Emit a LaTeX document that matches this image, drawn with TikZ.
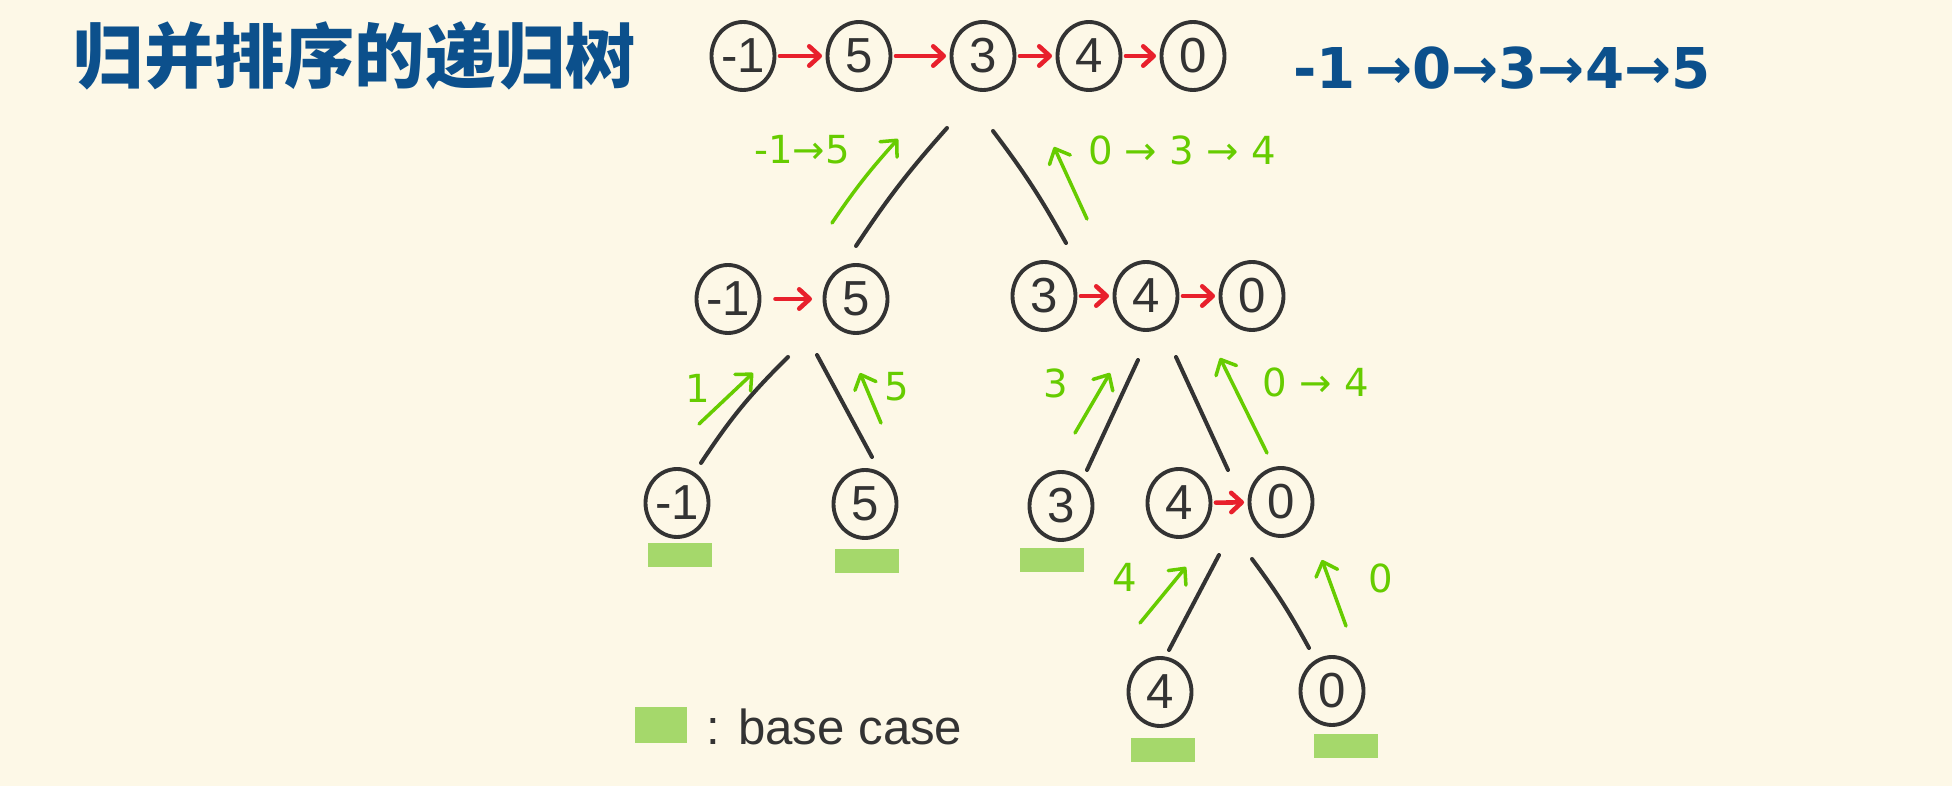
\documentclass[tikz,border=0pt]{standalone}
\usepackage{fontspec}
\setmainfont{Liberation Sans}
\newfontfamily\cjk{Noto Sans CJK SC}
\newfontfamily\arr{DejaVu Sans}
\usepackage{tikz}
\usetikzlibrary{arrows.meta,backgrounds,shapes.geometric}

\definecolor{paper}{RGB}{253,248,231}
\definecolor{ink}{RGB}{51,51,51}
\definecolor{mergered}{RGB}{232,32,44}
\definecolor{leafgreen}{RGB}{102,204,0}
\definecolor{basegreen}{RGB}{165,216,107}
\definecolor{titleblue}{RGB}{12,80,140}

\begin{document}
\begin{tikzpicture}[x=0.02cm, y=-0.02cm,
        num/.style={draw=ink, ellipse, line width=2.2pt, minimum width=1.26cm, minimum height=1.36cm, inner sep=0pt, text=ink, font=\fontsize{28}{28}\selectfont},
        link/.style={draw=mergered, line width=2.6pt, line cap=round, -{Straight Barb[length=6pt,width=11pt,round]}, shorten <=2pt, shorten >=2pt},
        branch/.style={draw=ink, line width=2.3pt, line cap=round},
        back/.style={draw=leafgreen, line width=2pt, line cap=round, -{Straight Barb[length=7pt,width=13pt,round]}},
        backlabel/.style={text=leafgreen, font=\arr\fontsize{22}{22}\selectfont},
        basecase/.style={fill=basegreen, minimum width=1.28cm, minimum height=0.48cm, inner sep=0pt}]
        \useasboundingbox (0,0) rectangle (1952,786);
        \fill[paper] (0,0) rectangle (1952,786);

        \node[text=titleblue, font=\cjk\bfseries\fontsize{40}{40}\selectfont] (title) at (355,56) {归并排序的递归树};
        \node[text=titleblue, font=\arr\bfseries\fontsize{32}{32}\selectfont] (sorted) at (1502,68) {-1\,→0→3→4→5};

        % whole array
        \node[num] (1) at (743,56) {-1};
        \node[num] (2) at (859,56) {5};
        \node[num] (3) at (983,56) {3};
        \node[num] (4) at (1089,56) {4};
        \node[num] (5) at (1193,56) {0};

        % halves
        \node[num] (6) at (728,299) {-1};
        \node[num] (7) at (856,299) {5};
        \node[num] (8) at (1044,296) {3};
        \node[num] (9) at (1146,296) {4};
        \node[num] (10) at (1252,296) {0};

        \node[num] (11) at (677,503) {-1};
        \node[num] (12) at (865,504) {5};
        \node[num] (13) at (1061,506) {3};
        \node[num] (14) at (1179,503) {4};
        \node[num] (15) at (1281,502) {0};

        \node[num] (16) at (1160,692) {4};
        \node[num] (17) at (1332,691) {0};

        % base cases
        \node[basecase] (18) at (680,555) {};
        \node[basecase] (19) at (867,561) {};
        \node[basecase] (20) at (1052,560) {};
        \node[basecase] (21) at (1163,750) {};
        \node[basecase] (22) at (1346,746) {};

        \node[fill=basegreen, minimum width=1.04cm, minimum height=0.74cm, inner sep=0pt] (23) at (661,725) {};
        \node[anchor=west, text=ink, font=\fontsize{28}{28}\selectfont] (24) at (700,727) {: base case};

        \draw[link] (1) -- (2);
        \draw[link] (2) -- (3);
        \draw[link] (3) -- (4);
        \draw[link] (4) -- (5);
        \draw[link, shorten <=8pt, shorten >=6pt] (6) -- (7);
        \draw[link] (8) -- (9);
        \draw[link] (9) -- (10);
        \draw[link] (14) -- (15);

        % branches of the tree
        \coordinate (b1) at (947,128);  \coordinate (b2) at (856,246);
        \coordinate (b3) at (993,131);  \coordinate (b4) at (1066,243);
        \coordinate (b5) at (788,357);  \coordinate (b6) at (701,463);
        \coordinate (b7) at (817,355);  \coordinate (b8) at (872,457);
        \coordinate (b9) at (1138,360); \coordinate (b10) at (1087,470);
        \coordinate (b11) at (1176,357); \coordinate (b12) at (1228,470);
        \coordinate (b13) at (1219,555); \coordinate (b14) at (1169,650);
        \coordinate (b15) at (1252,559); \coordinate (b16) at (1309,648);
        \draw[branch] (b1) to[bend right=4] (b2);
        \draw[branch] (b3) to[bend left=4] (b4);
        \draw[branch] (b5) to[bend right=6] (b6);
        \draw[branch] (b7) -- (b8);
        \draw[branch] (b9) -- (b10);
        \draw[branch] (b11) -- (b12);
        \draw[branch] (b13) -- (b14);
        \draw[branch] (b15) to[bend left=4] (b16);

        % merged lists going back up
        \coordinate (g1) at (832,223);  \coordinate (g2) at (898,139);
        \coordinate (g3) at (1087,219); \coordinate (g4) at (1054,147);
        \coordinate (g5) at (699,424);  \coordinate (g6) at (753,373);
        \coordinate (g7) at (881,423);  \coordinate (g8) at (860,373);
        \coordinate (g9) at (1075,433); \coordinate (g10) at (1110,373);
        \coordinate (g11) at (1267,453); \coordinate (g12) at (1220,358);
        \coordinate (g13) at (1140,623); \coordinate (g14) at (1186,567);
        \coordinate (g15) at (1346,626); \coordinate (g16) at (1322,560);
        \draw[back] (g1) to[bend left=4] (g2);
        \draw[back] (g3) -- (g4);
        \draw[back] (g5) -- (g6);
        \draw[back] (g7) -- (g8);
        \draw[back] (g9) -- (g10);
        \draw[back] (g11) -- (g12);
        \draw[back] (g13) -- (g14);
        \draw[back] (g15) -- (g16);

        \node[backlabel] (25) at (802,150) {-1→5};
        \node[backlabel] (26) at (1182,150) {0 → 3 → 4};
        \node[backlabel] (27) at (698,388) {1};
        \node[backlabel] (28) at (897,387) {5};
        \node[backlabel] (29) at (1056,383) {3};
        \node[backlabel] (30) at (1316,382) {0 → 4};
        \node[backlabel] (31) at (1125,577) {4};
        \node[backlabel] (32) at (1381,578) {0};
    \end{tikzpicture}
\end{document}
